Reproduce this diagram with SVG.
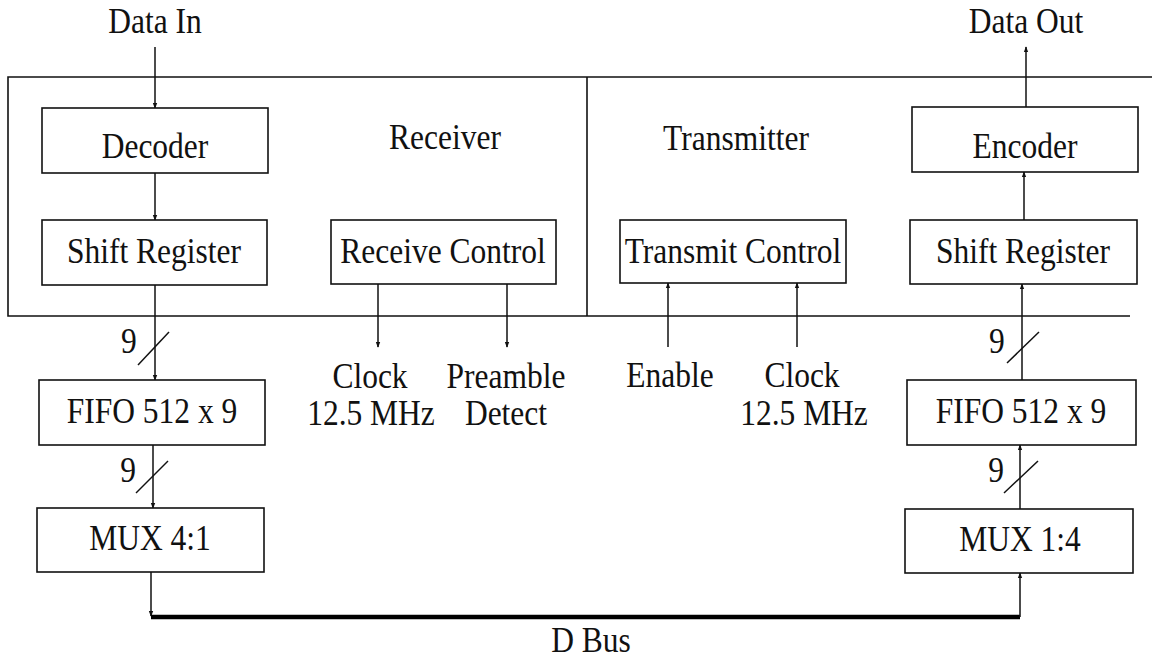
<svg xmlns="http://www.w3.org/2000/svg" width="1161" height="659" viewBox="0 0 1161 659">
<style>
.box{fill:#fff;stroke:#111;stroke-width:1.6}
.frame{fill:none;stroke:#111;stroke-width:1.6}
.ln{fill:none;stroke:#111;stroke-width:1.5}
.bus{fill:none;stroke:#000;stroke-width:4.5}
text{font-family:"Liberation Serif","Times New Roman",serif;font-size:31.5px;fill:#111;text-anchor:middle;transform-box:fill-box;transform-origin:50% 70%;transform:scaleY(1.13)}
</style>
<defs>
<marker id="ah" viewBox="0 0 8 8" refX="7" refY="4" markerWidth="6" markerHeight="6" markerUnits="userSpaceOnUse" orient="auto">
<path d="M0,1 L8,4 L0,7 Z" fill="#111"/>
</marker>
</defs>
<rect width="1161" height="659" fill="#fff"/>
<g id="frame">
<path class="frame" d="M1152,77 H8 V316 H1130"/>
<line class="frame" x1="587" y1="77" x2="587" y2="316"/>
<text x="445" y="149">Receiver</text>
<text x="736" y="150">Transmitter</text>
</g>
<g id="connectors">
<line class="ln" x1="155" y1="47" x2="155" y2="108" marker-end="url(#ah)"/>
<line class="ln" x1="155" y1="173" x2="155" y2="220" marker-end="url(#ah)"/>
<line class="ln" x1="155" y1="285" x2="155" y2="380" marker-end="url(#ah)"/>
<line class="ln" x1="153" y1="445" x2="153" y2="508" marker-end="url(#ah)"/>
<line class="ln" x1="151" y1="572" x2="151" y2="616" marker-end="url(#ah)"/>
<path class="bus" d="M151,617 H1020"/>
<line class="ln" x1="1020" y1="617" x2="1020" y2="573" marker-end="url(#ah)"/>
<line class="ln" x1="1020" y1="509" x2="1020" y2="445" marker-end="url(#ah)"/>
<line class="ln" x1="1022" y1="380" x2="1022" y2="284" marker-end="url(#ah)"/>
<line class="ln" x1="1024" y1="220" x2="1024" y2="172" marker-end="url(#ah)"/>
<line class="ln" x1="1026" y1="107" x2="1026" y2="47" marker-end="url(#ah)"/>
<line class="ln" x1="378" y1="284" x2="378" y2="347" marker-end="url(#ah)"/>
<line class="ln" x1="507" y1="284" x2="507" y2="347" marker-end="url(#ah)"/>
<line class="ln" x1="668" y1="347" x2="668" y2="283" marker-end="url(#ah)"/>
<line class="ln" x1="797" y1="347" x2="797" y2="283" marker-end="url(#ah)"/>
<line class="ln" x1="138" y1="365" x2="169" y2="332"/>
<line class="ln" x1="136" y1="493" x2="168" y2="461"/>
<line class="ln" x1="1007" y1="363" x2="1039" y2="332"/>
<line class="ln" x1="1004" y1="493" x2="1038" y2="461"/>
<text x="129" y="353">9</text>
<text x="128" y="482">9</text>
<text x="997" y="353">9</text>
<text x="996" y="482">9</text>
</g>
<g id="labels">
<text x="155" y="33">Data In</text>
<text x="1026" y="33">Data Out</text>
<text x="370" y="388">Clock</text>
<text x="371" y="425">12.5 MHz</text>
<text x="506" y="388">Preamble</text>
<text x="506" y="425">Detect</text>
<text x="670" y="387">Enable</text>
<text x="802" y="387">Clock</text>
<text x="804" y="425">12.5 MHz</text>
<text x="591" y="652">D Bus</text>
</g>
<g id="decoder"><rect class="box" x="42" y="108" width="226" height="65"/><text x="155" y="158">Decoder</text></g>
<g id="shift-register-rx"><rect class="box" x="42" y="220" width="225" height="65"/><text x="154" y="263">Shift Register</text></g>
<g id="receive-control"><rect class="box" x="331" y="220" width="225" height="64"/><text x="443" y="263">Receive Control</text></g>
<g id="transmit-control"><rect class="box" x="620" y="220" width="226" height="63"/><text x="733" y="263">Transmit Control</text></g>
<g id="encoder"><rect class="box" x="912" y="107" width="226" height="65"/><text x="1025" y="158">Encoder</text></g>
<g id="shift-register-tx"><rect class="box" x="910" y="220" width="227" height="64"/><text x="1023" y="263">Shift Register</text></g>
<g id="fifo-rx"><rect class="box" x="39" y="380" width="226" height="65"/><text x="152" y="423">FIFO 512 x 9</text></g>
<g id="mux-rx"><rect class="box" x="37" y="508" width="227" height="64"/><text x="150" y="550">MUX 4:1</text></g>
<g id="fifo-tx"><rect class="box" x="907" y="380" width="229" height="65"/><text x="1021" y="423">FIFO 512 x 9</text></g>
<g id="mux-tx"><rect class="box" x="905" y="509" width="228" height="64"/><text x="1020" y="551">MUX 1:4</text></g>
</svg>
